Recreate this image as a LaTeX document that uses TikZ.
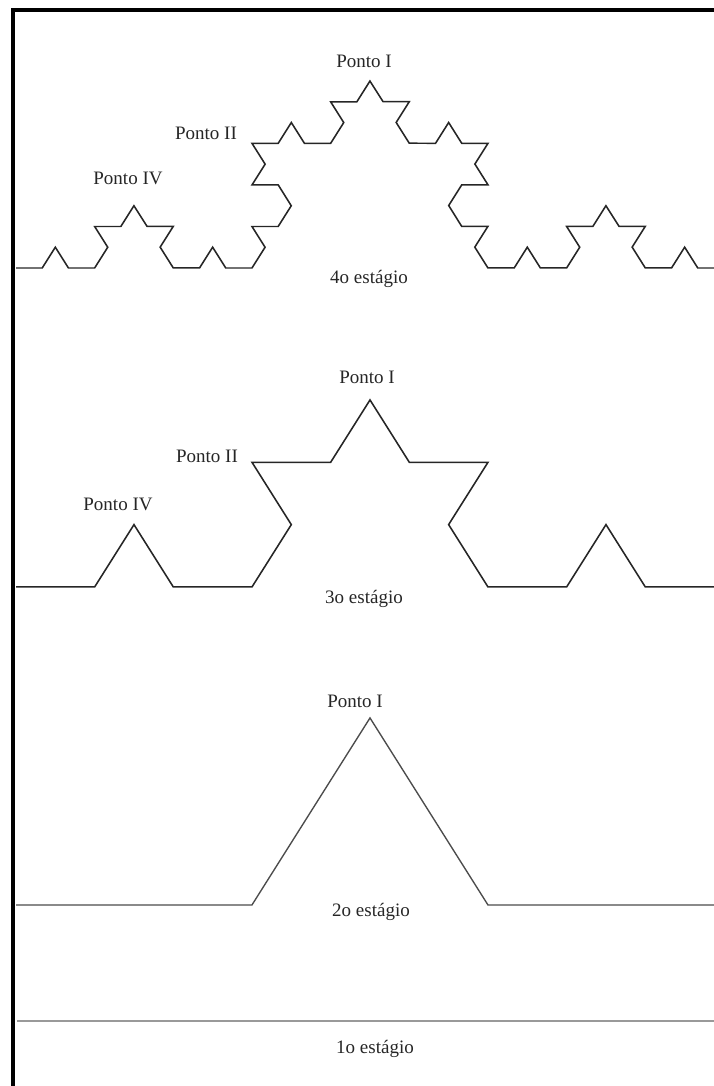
\documentclass[tikz,border=0pt]{standalone}
\usepackage{fontspec}
\setmainfont{Liberation Serif}
\usetikzlibrary{decorations.fractals}

\tikzset{
  koch/.style={decoration=Koch snowflake, line width=1.6pt, draw=black!85, line join=miter},
  rotulo/.style={anchor=base, inner sep=0pt, text=black!85, font=\fontsize{19}{22}\selectfont},
}

\begin{document}
\begin{tikzpicture}[x=1pt, y=-1pt]
    \useasboundingbox (0,0) rectangle (714,1086);
    \clip (0,0) rectangle (714,1086);
    \draw[line width=4pt] (13,1086) -- (13,10) -- (714,10);     % moldura

    \begin{scope}[transform canvas={yscale=0.915}]
        \coordinate (a4) at (16,{268/0.915});
        \coordinate (b4) at (724,{268/0.915});
        \coordinate (a3) at (16,{587/0.915});
        \coordinate (b3) at (724,{587/0.915});
        \coordinate (a2) at (16,{905/0.915});
        \coordinate (b2) at (724,{905/0.915});
        \draw[koch] decorate{decorate{decorate{(a4) -- (b4)}}};   % 4o
        \draw[koch] decorate{decorate{(a3) -- (b3)}};             % 3o
        \draw[koch, draw=black!70, line width=1.4pt] decorate{(a2) -- (b2)};   % 2o
    \end{scope}
    \draw[line width=2pt, draw=black!40] (17,1021) -- (714,1021); % 1o

    \node[rotulo] (p1a) at (364,68)  {Ponto I};
    \node[rotulo] (p2a) at (206,140) {Ponto II};
    \node[rotulo] (p4a) at (128,185) {Ponto IV};
    \node[rotulo] (e4)  at (369,283) {4o estágio};

    \node[rotulo] (p1b) at (367,383) {Ponto I};
    \node[rotulo] (p2b) at (207,462) {Ponto II};
    \node[rotulo] (p4b) at (118,510) {Ponto IV};
    \node[rotulo] (e3)  at (364,603) {3o estágio};

    \node[rotulo] (p1c) at (355,707) {Ponto I};
    \node[rotulo] (e2)  at (371,916) {2o estágio};

    \node[rotulo] (e1)  at (375,1053) {1o estágio};
\end{tikzpicture}
\end{document}
